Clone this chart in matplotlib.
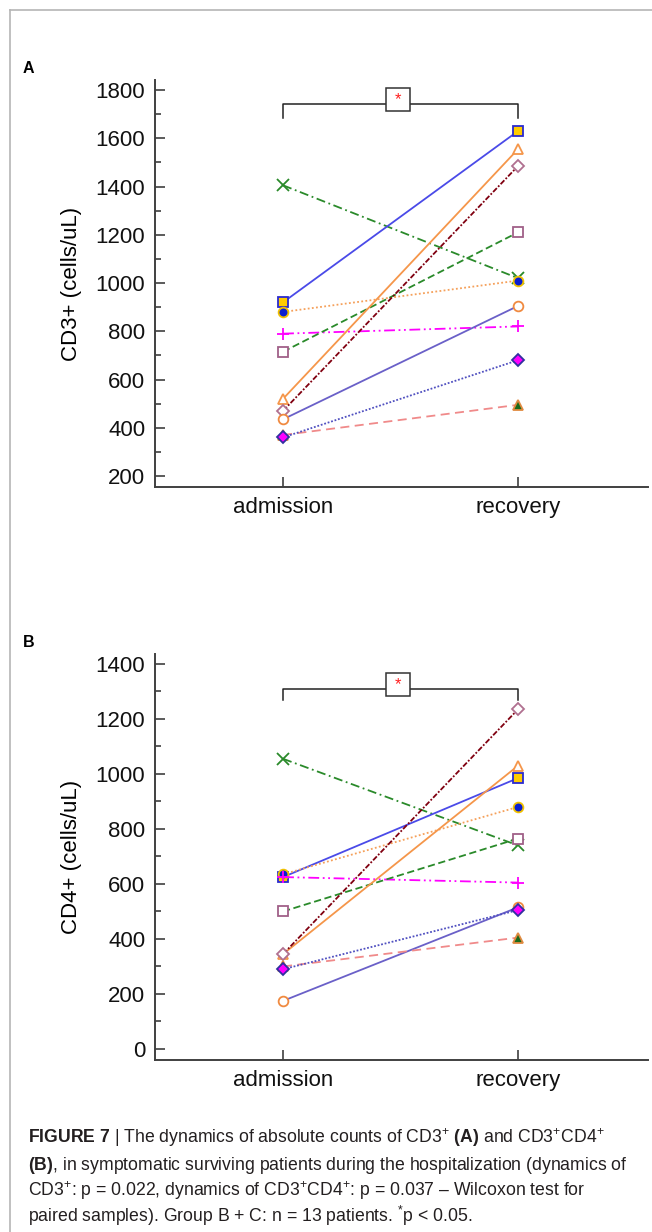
import matplotlib.pyplot as plt
from matplotlib.lines import Line2D
from matplotlib.patches import Rectangle
from matplotlib.ticker import MultipleLocator

plt.rcParams['font.family'] = ['Liberation Sans', 'DejaVu Sans']
plt.rcParams['mathtext.fontset'] = 'custom'
plt.rcParams['mathtext.rm'] = 'Liberation Sans'
plt.rcParams['mathtext.bf'] = 'Liberation Sans:bold'
plt.rcParams['mathtext.it'] = 'Liberation Sans:italic'

# data (one entry per patient line)
timepoints = ["admission", "recovery"]
cd3_admission = [1405, 920, 880, 790, 715, 520, 470, 435, 370, 360]
cd3_recovery = [1020, 1630, 1010, 820, 1210, 1555, 1485, 905, 495, 680]
cd4_admission = [1055, 625, 635, 625, 500, 345, 345, 175, 300, 290]
cd4_recovery = [740, 985, 880, 605, 765, 1030, 1235, 515, 405, 505]

# (line colour, dash, marker, marker face, marker edge)
styles = [
    ("#2a8a2a", (0, (5, 2, 1, 2)), "x", "#2a8a2a", "#2a8a2a"),
    ("#4a4ae8", "-", "s", "#ffcc00", "#2a2ad0"),
    ("#f5a05a", (0, (1, 1.3)), "o", "#0a1ed0", "#f0c000"),
    ("#ff00ff", (0, (6, 2, 1, 2, 1, 2)), "+", "#ff00ff", "#ff00ff"),
    ("#2a8a2a", (0, (4, 2)), "s", "white", "#a06088"),
    ("#f5964a", "-", "^", "white", "#f5964a"),
    ("#800010", (0, (3, 1, 1, 1)), "D", "white", "#b07090"),
    ("#6a60c8", "-", "o", "white", "#f08a40"),
    ("#f08a8a", (0, (5, 3)), "^", "#1a6a1a", "#e08a40"),
    ("#5050c0", (0, (1, 1)), "D", "#ff00ff", "#3030a0"),
]

W, H = 652, 1232
fig = plt.figure(figsize=(W / 100, H / 100), dpi=100)


def add_panel(top, bottom, adm, rec, ylim, ymaj, ylabel, letter, brk):
    ax = fig.add_axes([155 / W, 1 - bottom / H, (648 - 155) / W, (bottom - top) / H])
    for (c, ls, m, mfc, mec), a, r in zip(styles, adm, rec):
        ms = 8 if m in ("+", "x") else 7
        if m == "D":
            ms = 6.5
        ax.plot([0, 1], [a, r], color=c, linestyle=ls, lw=1.3,
                marker=m, ms=ms, mfc=mfc, mec=mec, mew=1.3, clip_on=False)
    ax.set_xlim(-0.545, 1.553)
    ax.set_ylim(*ylim)
    ax.set_xticks([0, 1])
    ax.set_xticklabels(timepoints)
    ax.yaxis.set_major_locator(MultipleLocator(ymaj))
    ax.yaxis.set_minor_locator(MultipleLocator(ymaj / 2))
    for s in ("top", "right"):
        ax.spines[s].set_visible(False)
    for s in ("left", "bottom"):
        ax.spines[s].set_color("#404040")
        ax.spines[s].set_linewidth(1.4)
    ax.tick_params(direction="in", length=7, width=1.2, color="#404040",
                   labelsize=16, pad=7, labelcolor="#111111")
    ax.tick_params(which="minor", direction="in", length=4, width=1.2, color="#404040")
    ax.tick_params(axis="x", which="minor", length=0)
    ax.set_ylabel(ylabel, fontsize=16)
    ax.yaxis.set_label_coords(-0.148, 0.5)
    # significance bracket
    yl, yt, b0, b1 = brk
    ax.plot([0, 0, 1, 1], [yt, yl, yl, yt], color="#222222", lw=1.1, clip_on=False)
    ax.add_patch(Rectangle((0.438, b0), 0.102, b1 - b0, facecolor="white",
                           edgecolor="#333333", lw=1.1, zorder=5, clip_on=False))
    ax.text(0.489, (b0 + b1) / 2, "*", color="#ff2020", fontsize=12,
            ha="center", va="center", zorder=6)
    fig.text(23 / W, 1 - (top - 7) / H, letter, fontsize=11.5, fontweight="bold",
             ha="left", va="baseline")
    return ax


add_panel(80, 487, cd3_admission, cd3_recovery, (154.4, 1841.5), 200,
          "CD3+ (cells/uL)", "A", (1742, 1684, 1713, 1808))
add_panel(654, 1060, cd4_admission, cd4_recovery, (-40, 1436), 200,
          "CD4+ (cells/uL)", "B", (1309, 1269, 1284, 1367))

# figure frame
fig.add_artist(Line2D([10 / W, 10 / W], [0, 1 - 10 / H], color="#b5b5b5", lw=1.2))
fig.add_artist(Line2D([10 / W, 1], [1 - 10 / H, 1 - 10 / H], color="#b5b5b5", lw=1.2))

caption = [
    r"$\mathbf{FIGURE\ 7}$ | The dynamics of absolute counts of CD3$^{+}$ $\mathbf{(A)}$ and CD3$^{+}$CD4$^{+}$",
    r"$\mathbf{(B)}$, in symptomatic surviving patients during the hospitalization (dynamics of",
    r"CD3$^{+}$: p = 0.022, dynamics of CD3$^{+}$CD4$^{+}$: p = 0.037 – Wilcoxon test for",
    r"paired samples). Group B + C: n = 13 patients. $^{*}$p < 0.05.",
]
for i, line in enumerate(caption):
    fig.text(28 / W, 1 - (1143 + 26.5 * i) / H, line, fontsize=12.7,
             color="#231f20", ha="left", va="baseline")

fig.savefig("out.png", dpi=100)
